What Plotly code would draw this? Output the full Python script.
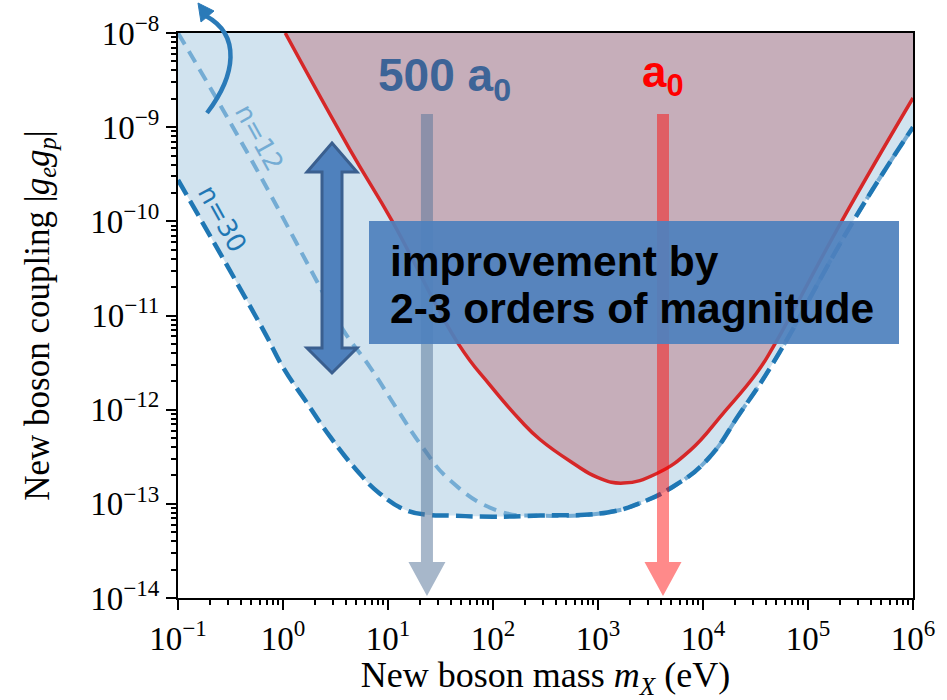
import plotly.graph_objects as go

# ---- exclusion limits: new boson mass (eV) vs coupling |g_e g_p| ----
mass_n30 = [0.1, 0.646, 1.0, 1.70, 2.82, 5.01, 8.32, 15.1, 25.1, 38.9, 100, 282,
            1230, 2510, 5130, 1.10e4, 2.24e4, 4.68e4, 2.69e5, 1e6]
coupling_n30 = [2.75e-10, 7.08e-12, 2.82e-12, 1.17e-12, 5.13e-13, 2.29e-13, 1.29e-13,
                8.5e-14, 7.6e-14, 7.5e-14, 7.3e-14, 7.5e-14, 8.1e-14, 1.02e-13,
                1.51e-13, 2.95e-13, 9.1e-13, 3.16e-12, 1.0e-10, 1.0e-9]

mass_n12 = [0.1, 0.457, 2.09, 3.72, 6.76, 12.3, 21.4, 38.9, 110, 282,
            1230, 2510, 5130, 1.10e4, 2.24e4, 4.68e4, 2.69e5, 1e6]
coupling_n12 = [1e-8, 5.37e-10, 2.34e-11, 7.08e-12, 2.82e-12, 1.0e-12, 3.98e-13,
                1.78e-13, 8.5e-14, 7.5e-14, 8.1e-14, 1.02e-13, 1.51e-13, 2.95e-13,
                9.1e-13, 3.16e-12, 1.0e-10, 1.0e-9]

mass_a0 = [1.05, 4.35, 11.0, 46.8, 93.6, 181, 282, 575, 1000, 1740, 3630,
           7590, 1.55e4, 3.24e4, 4.68e4, 2.09e5, 1e6]
coupling_a0 = [1e-8, 5.75e-10, 1e-10, 5.0e-12, 1.82e-12, 7.76e-13, 4.79e-13, 2.72e-13,
               1.90e-13, 1.66e-13, 2.10e-13, 3.72e-13, 9.1e-13,
               2.45e-12, 4.68e-12, 1.0e-10, 2.04e-9]

# masses marked by the vertical arrows (500 a0 and a0 length scales)
arrow_masses = [23.5, 4160]
arrow_labels = ["500 a<sub>0</sub>", "a<sub>0</sub>"]

x_exponents = list(range(-1, 7))
y_exponents = list(range(-14, -7))
x_ticktext = ["10<sup>" + ("\u2212" if k < 0 else "") + str(abs(k)) + "</sup>" for k in x_exponents]
y_ticktext = ["10<sup>\u2212" + str(abs(k)) + "</sup>" for k in y_exponents]

Y_TOP = 1e-8
X_MIN, X_MAX = 1e-1, 1e6

# plot-area geometry (pixels) used for overlay placement
L, R, T, B = 178, 913, 33, 598
W, H = 947, 700


def px(x):
    return (x - L) / (R - L)


def py(y):
    return (B - y) / (B - T)


SMOOTH = 1.3

fig = go.Figure()

# light-blue region: reach of the n=30 projection
fig.add_trace(go.Scatter(x=[X_MIN, X_MAX], y=[Y_TOP, Y_TOP], mode="lines",
                         line=dict(width=0), hoverinfo="skip"))
fig.add_trace(go.Scatter(x=mass_n30, y=coupling_n30, mode="lines", fill="tonexty",
                         fillcolor="#d1e3ef",
                         line=dict(width=0, shape="spline", smoothing=SMOOTH),
                         hoverinfo="skip"))

# excluded region from the a0 measurement
fig.add_trace(go.Scatter(x=[mass_a0[0], X_MAX], y=[Y_TOP, Y_TOP], mode="lines",
                         line=dict(width=0), hoverinfo="skip"))
fig.add_trace(go.Scatter(x=mass_a0, y=coupling_a0, mode="lines", fill="tonexty",
                         fillcolor="#c6aeba",
                         line=dict(width=0, shape="spline", smoothing=SMOOTH),
                         hoverinfo="skip"))

# boundary lines
fig.add_trace(go.Scatter(x=mass_n12, y=coupling_n12, mode="lines",
                         line=dict(color="#74acd4", width=4, dash="13px,8px",
                                   shape="spline", smoothing=SMOOTH)))
fig.add_trace(go.Scatter(x=mass_n30, y=coupling_n30, mode="lines",
                         line=dict(color="#1f77b4", width=4.5, dash="17px,7px",
                                   shape="spline", smoothing=SMOOTH)))
fig.add_trace(go.Scatter(x=mass_a0, y=coupling_a0, mode="lines",
                         line=dict(color="#d62728", width=3.5,
                                   shape="spline", smoothing=SMOOTH)))

shapes = []
annotations = []

# vertical arrows pointing at the characteristic masses
arrow_colors = [("#56749a", 0.52), ("#ff0000", 0.46)]
for m, (col, op) in zip(arrow_masses, arrow_colors):
    shapes.append(dict(
        type="path", xref="x", yref="y", xsizemode="pixel", ysizemode="pixel",
        xanchor=m, yanchor=1e-14,
        path="M -6,484 L 6,484 L 6,36 L 18.5,36 L 0,2 L -18.5,36 L -6,36 Z",
        fillcolor=col, opacity=op, line=dict(width=0), layer="above"))

# text box
shapes.append(dict(type="rect", xref="paper", yref="paper",
                   x0=px(369), x1=px(899), y0=py(344), y1=py(221),
                   fillcolor="#4f81bd", opacity=0.93, line=dict(width=0), layer="above"))

# double-headed arrow
cx = 332
pts = [(cx, 143), (cx + 25, 172), (cx + 10, 172), (cx + 10, 348), (cx + 25, 348),
       (cx, 373), (cx - 25, 348), (cx - 10, 348), (cx - 10, 172), (cx - 25, 172)]
dpath = "M " + " L ".join(f"{px(a):.5f},{py(b):.5f}" for a, b in pts) + " Z"
shapes.append(dict(type="path", xref="paper", yref="paper", path=dpath,
                   fillcolor="#4f81bd", line=dict(color="#3a5f8f", width=3), layer="above"))

# curved arrow at the upper left
cpath = (f"M {px(207):.5f},{py(113):.5f} C {px(236):.5f},{py(75):.5f} "
         f"{px(241):.5f},{py(35):.5f} {px(206):.5f},{py(16):.5f}")
shapes.append(dict(type="path", xref="paper", yref="paper", path=cpath,
                   line=dict(color="#2a7ab8", width=4.5), layer="above"))
head = [(198, 3), (214, 11), (201, 22)]
hpath = "M " + " L ".join(f"{px(a):.5f},{py(b):.5f}" for a, b in head) + " Z"
shapes.append(dict(type="path", xref="paper", yref="paper", path=hpath,
                   fillcolor="#2a7ab8", line=dict(color="#2a7ab8", width=1), layer="above"))

# labels
sans = "Liberation Sans, Arial, sans-serif"
annotations.append(dict(xref="paper", yref="paper", x=px(376), y=py(79),
                        xanchor="left", yanchor="middle", showarrow=False,
                        text="<b>" + arrow_labels[0] + "</b>",
                        font=dict(family=sans, size=46, color="#3d6497")))
annotations.append(dict(xref="paper", yref="paper", x=px(640), y=py(75),
                        xanchor="left", yanchor="middle", showarrow=False,
                        text="<b>" + arrow_labels[1] + "</b>",
                        font=dict(family=sans, size=44, color="#ff0000")))
annotations.append(dict(xref="paper", yref="paper", x=px(388), y=py(261),
                        xanchor="left", yanchor="middle", showarrow=False,
                        text="<b>improvement by</b>",
                        font=dict(family=sans, size=42.5, color="black")))
annotations.append(dict(xref="paper", yref="paper", x=px(388), y=py(308),
                        xanchor="left", yanchor="middle", showarrow=False,
                        text="<b>2-3 orders of magnitude</b>",
                        font=dict(family=sans, size=42.5, color="black")))

# curve labels
annotations.append(dict(xref="paper", yref="paper", x=px(259), y=py(137),
                        xanchor="center", yanchor="middle",
                        showarrow=False, text="n=12", textangle=61,
                        font=dict(family="DejaVu Sans", size=26, color="#74acd4")))
annotations.append(dict(xref="paper", yref="paper", x=px(222), y=py(218),
                        xanchor="center", yanchor="middle",
                        showarrow=False, text="n=30", textangle=61,
                        font=dict(family="DejaVu Sans", size=26, color="#1f77b4")))

serif = "Liberation Serif, Times New Roman, serif"


def minor_vals(lo, hi):
    vals = []
    for k in range(lo, hi):
        for d in range(2, 10):
            vals.append(d * 10.0 ** k)
    return vals


fig.update_layout(
    width=W, height=H,
    margin=dict(l=L, r=W - R, t=T, b=H - B),
    paper_bgcolor="white", plot_bgcolor="white",
    showlegend=False,
    shapes=shapes, annotations=annotations,
    xaxis=dict(type="log", range=[-1, 6], tickmode="array", automargin=False,
               tickvals=[10.0 ** k for k in x_exponents], ticktext=x_ticktext,
               ticks="outside", ticklen=10, tickwidth=2, tickcolor="black",
               showline=True, linecolor="black", linewidth=2, mirror=True,
               showgrid=False, zeroline=False,
               tickfont=dict(family=serif, size=33, color="black"),
               minor=dict(tickmode="array", tickvals=minor_vals(-1, 6), ticks="outside",
                          ticklen=5, tickwidth=1.5, tickcolor="black", showgrid=False),
               title=dict(text="New boson mass <i>m<sub>X</sub></i> (eV)",
                          font=dict(family=serif, size=36, color="black"), standoff=17)),
    yaxis=dict(type="log", range=[-14, -8], tickmode="array", automargin=False,
               tickvals=[10.0 ** k for k in y_exponents], ticktext=y_ticktext,
               ticks="outside", ticklen=10, tickwidth=2, tickcolor="black",
               showline=True, linecolor="black", linewidth=2, mirror=True,
               showgrid=False, zeroline=False,
               tickfont=dict(family=serif, size=33, color="black"),
               minor=dict(tickmode="array", tickvals=minor_vals(-14, -8), ticks="outside",
                          ticklen=5, tickwidth=1.5, tickcolor="black", showgrid=False),
               title=dict(text="New boson coupling |<i>g<sub>e</sub>g<sub>p</sub></i>|",
                          font=dict(family=serif, size=35, color="black"), standoff=30)),
)

fig.write_html("out.html")
